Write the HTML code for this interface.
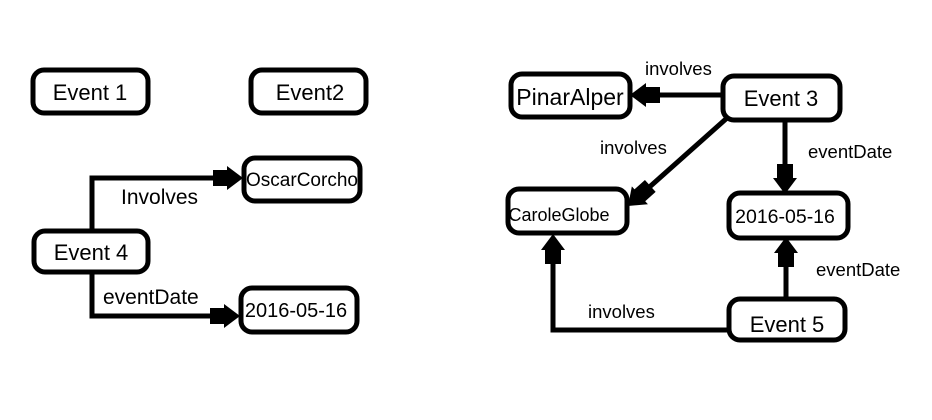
<!DOCTYPE html>
<html><head><meta charset="utf-8"><style>
html,body{margin:0;padding:0;background:#fff;}
svg{display:block;}
text{font-family:"Liberation Sans","DejaVu Sans",sans-serif;fill:#000;}
</style></head><body>
<svg width="932" height="420" viewBox="0 0 932 420" xmlns="http://www.w3.org/2000/svg">
<defs>
<g id="ah"><polygon points="-16,-12 0,0 -16,12"/><rect x="-30" y="-8" width="18" height="16"/></g>
</defs>
<g fill="#fff" stroke="#000" stroke-width="5">
<rect x="33" y="70" width="115" height="43" rx="11"/>
<rect x="251" y="70" width="115" height="43" rx="11"/>
<rect x="244" y="158" width="116" height="43" rx="11"/>
<rect x="34" y="231" width="114" height="41" rx="11"/>
<rect x="241" y="288" width="116" height="44" rx="11"/>
<rect x="511" y="74" width="119" height="43" rx="11"/>
<rect x="723" y="76" width="117" height="44" rx="11"/>
<rect x="508" y="189" width="119" height="44" rx="11"/>
<rect x="729" y="193" width="119" height="45" rx="11"/>
<rect x="729" y="299" width="116" height="41" rx="11"/>
</g>
<g fill="none" stroke="#000" stroke-width="5">
<polyline points="92,231 92,178 225,178"/>
<polyline points="92,272 92,316 222,316"/>
<line x1="723" y1="95" x2="650" y2="95"/>
<line x1="727" y1="118" x2="645" y2="191"/>
<line x1="785" y1="120" x2="785" y2="172"/>
<line x1="786" y1="299" x2="786" y2="257"/>
<polyline points="729,330 553,330 553,252"/>
</g>
<g fill="#000">
<use href="#ah" transform="translate(243,178)"/>
<use href="#ah" transform="translate(240,316)"/>
<use href="#ah" transform="translate(630,95) rotate(180)"/>
<use href="#ah" transform="translate(628,206) rotate(138)"/>
<use href="#ah" transform="translate(785,194) rotate(90)"/>
<use href="#ah" transform="translate(786,237) rotate(-90)"/>
<use href="#ah" transform="translate(553,234) rotate(-90)"/>
</g>
<g font-size="22" text-anchor="middle">
<text x="90" y="100">Event 1</text>
<text x="310" y="100">Event2</text>
<text x="91" y="260">Event 4</text>
<text x="570" y="105" font-size="23">PinarAlper</text>
<text x="781" y="106">Event 3</text>
<text x="787" y="332">Event 5</text>
</g>
<g text-anchor="middle">
<text x="302" y="186" font-size="19">OscarCorcho</text>
<text x="296" y="317" font-size="20">2016-05-16</text>
<text x="559" y="221" font-size="18">CaroleGlobe</text>
<text x="785" y="223" font-size="19.5">2016-05-16</text>
</g>
<g font-size="21">
<text x="121" y="204">Involves</text>
<text x="103" y="304">eventDate</text>
</g>
<g font-size="18.5">
<text x="645" y="75">involves</text>
<text x="600" y="154">involves</text>
<text x="808" y="158">eventDate</text>
<text x="816" y="276">eventDate</text>
<text x="588" y="318">involves</text>
</g>
</svg>
</body></html>
